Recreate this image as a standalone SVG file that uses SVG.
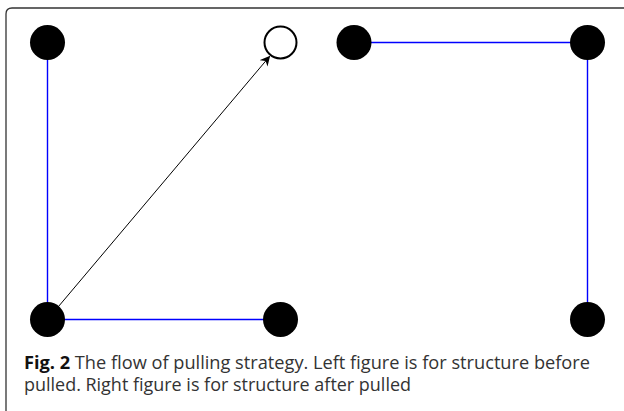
<svg xmlns="http://www.w3.org/2000/svg" width="624" height="411" viewBox="0 0 624 411">
<style>
.frame{fill:none;stroke:#333;stroke-width:1.3}
.blue{stroke:#0000ff;stroke-width:1.4;fill:none}
.arrow{stroke:#000;stroke-width:1;fill:none}
.full{fill:#000}
.empty{fill:#fff;stroke:#000;stroke-width:2}
.cap{font-family:"Open Sans","Noto Sans",sans-serif;font-size:17.5px;fill:#333}
.b{font-weight:bold;fill:#111}
</style>
<defs>
<marker id="ah" viewBox="0 0 10 10" refX="9" refY="5" markerWidth="10" markerHeight="10" markerUnits="userSpaceOnUse" orient="auto">
<path d="M0,0 L10,5 L0,10 L3,5 Z" fill="#000"/>
</marker>
</defs>
<path class="frame" d="M6,411 V14 Q6,8 12,8 H624"/>
<g id="connectors">
<line class="blue" x1="47.5" y1="42.5" x2="47.5" y2="319.5"/>
<line class="blue" x1="47.5" y1="319.5" x2="280.5" y2="319.5"/>
<line class="blue" x1="354" y1="42.5" x2="587.5" y2="42.5"/>
<line class="blue" x1="587.5" y1="42.5" x2="587.5" y2="319.5"/>
<line class="arrow" x1="47.5" y1="319.5" x2="269.5" y2="56.5" marker-end="url(#ah)"/>
</g>
<g id="n1"><circle class="full" cx="47.5" cy="42.5" r="17.5"/></g>
<g id="n2"><circle class="empty" cx="280.5" cy="42.5" r="16"/></g>
<g id="n3"><circle class="full" cx="47.5" cy="319.5" r="17.5"/></g>
<g id="n4"><circle class="full" cx="280.5" cy="319.5" r="17.5"/></g>
<g id="n5"><circle class="full" cx="354" cy="42.5" r="17.5"/></g>
<g id="n6"><circle class="full" cx="587.5" cy="42.5" r="17.5"/></g>
<g id="n7"><circle class="full" cx="587.5" cy="319.5" r="17.5"/></g>
<text class="cap" x="24" y="368.5" textLength="566" lengthAdjust="spacingAndGlyphs"><tspan class="b">Fig. 2</tspan> The flow of pulling strategy. Left figure is for structure before</text>
<text class="cap" x="24" y="390.5" textLength="387" lengthAdjust="spacingAndGlyphs">pulled. Right figure is for structure after pulled</text>
</svg>
